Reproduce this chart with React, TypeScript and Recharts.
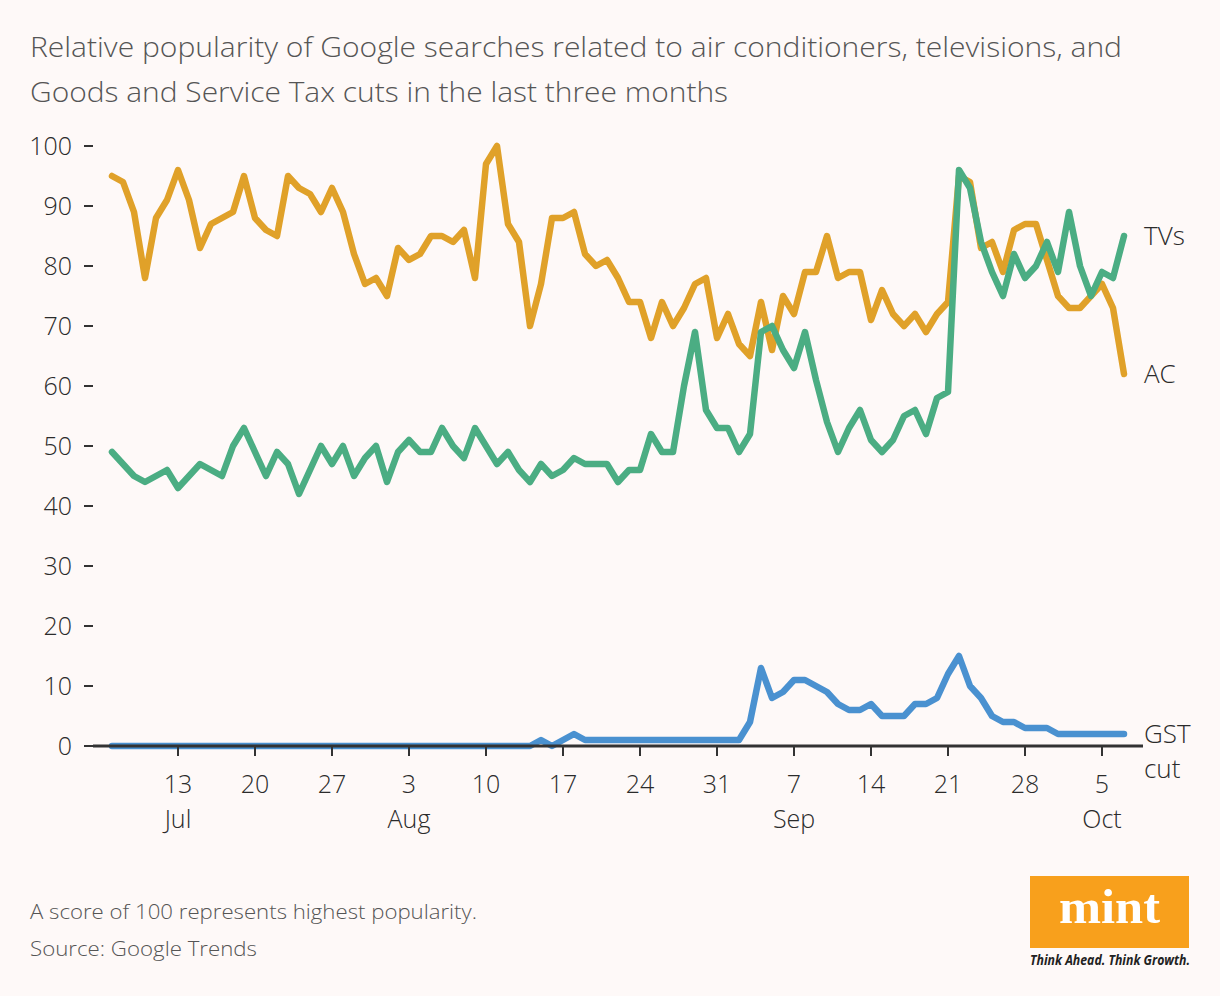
import React from 'react';
import { LineChart, Line, XAxis, YAxis, ReferenceLine } from 'recharts';

// Daily index 0 = 7 Jul ... 92 = 7 Oct
const acValues = [
  95, 94, 89, 78, 88, 91, 96, 91, 83, 87, 88, 89, 95, 88, 86, 85, 95, 93, 92, 89, 93, 89, 82, 77, 78, 75,
  83, 81, 82, 85, 85, 84, 86, 78, 97, 100, 87, 84, 70, 77, 88, 88, 89, 82, 80, 81, 78, 74, 74, 68, 74, 70,
  73, 77, 78, 68, 72, 67, 65, 74, 66, 75, 72, 79, 79, 85, 78, 79, 79, 71, 76, 72, 70, 72, 69, 72, 74,
  95, 94, 83, 84, 79, 86, 87, 87, 81, 75, 73, 73, 75, 77, 73, 62,
];
const tvValues = [
  49, 47, 45, 44, 45, 46, 43, 45, 47, 46, 45, 50, 53, 49, 45, 49, 47, 42, 46, 50, 47, 50, 45, 48, 50, 44,
  49, 51, 49, 49, 53, 50, 48, 53, 50, 47, 49, 46, 44, 47, 45, 46, 48, 47, 47, 47, 44, 46, 46, 52, 49, 49,
  60, 69, 56, 53, 53, 49, 52, 69, 70, 66, 63, 69, 61, 54, 49, 53, 56, 51, 49, 51, 55, 56, 52, 58, 59,
  96, 93, 84, 79, 75, 82, 78, 80, 84, 79, 89, 80, 75, 79, 78, 85,
];
const gstValues = [
  0, 0, 0, 0, 0, 0, 0, 0, 0, 0, 0, 0, 0, 0, 0, 0, 0, 0, 0, 0, 0, 0, 0, 0, 0, 0, 0, 0, 0, 0,
  0, 0, 0, 0, 0, 0, 0, 0, 0, 1, 0, 1, 2,
  1, 1, 1, 1, 1, 1, 1, 1, 1, 1, 1, 1, 1, 1, 1,
  4, 13, 8, 9, 11, 11, 10, 9, 7, 6, 6, 7, 5, 5, 5, 7, 7, 8, 12, 15, 10, 8, 5, 4, 4, 3, 3, 3, 2, 2,
  2, 2, 2, 2, 2,
];

const tickIndex = [6, 13, 20, 27, 34, 41, 48, 55, 62, 69, 76, 83, 90];
const tickDay = ['13', '20', '27', '3', '10', '17', '24', '31', '7', '14', '21', '28', '5'];
const tickMonth = ['Jul', '', '', 'Aug', '', '', '', '', 'Sep', '', '', '', 'Oct'];
const yTicks = [0, 10, 20, 30, 40, 50, 60, 70, 80, 90, 100];

const titleLines = [
  'Relative popularity of Google searches related to air conditioners, televisions, and',
  'Goods and Service Tax cuts in the last three months',
];
const titleLengths = [1092, 698];
const notes = ['A score of 100 represents highest popularity.', 'Source: Google Trends'];
const noteLengths = [447, 227];

const data = acValues.map((v, i) => ({ i, ac: v, tv: tvValues[i], gst: gstValues[i] }));
const lastIndex = data.length - 1;

const FONT = '"Open Sans", "Noto Sans", sans-serif';
const C_AC = '#E0A129';
const C_TV = '#4BAD83';
const C_GST = '#4A91D0';
const TEXT = '#2b2b2b';

const XTick = (props: any) => {
  const { x, y, payload } = props;
  const k = tickIndex.indexOf(payload.value);
  if (k < 0) return null;
  return (
    <g>
      <text x={x} y={y + 35} textAnchor="middle" fontSize={25} fontWeight={300} fill={TEXT} fontFamily={FONT}>
        {tickDay[k]}
      </text>
      {tickMonth[k] ? (
        <text x={x} y={y + 70} textAnchor="middle" fontSize={25} fontWeight={300} fill={TEXT} fontFamily={FONT}>
          {tickMonth[k]}
        </text>
      ) : null}
    </g>
  );
};

const endLabel = (lines: string[]) => (props: any) => {
  const { x, y, index } = props;
  if (index !== lastIndex) return null;
  return (
    <text x={x + 20} y={y} fontSize={26} fontWeight={300} fill={TEXT} fontFamily={FONT}>
      {lines.map((l, k) => (
        <tspan key={k} x={x + 20} dy={k === 0 ? '0.36em' : '1.32em'}>
          {l}
        </tspan>
      ))}
    </text>
  );
};

export default function App() {
  return (
    <div
      style={{
        position: 'absolute',
        left: 0,
        top: 0,
        width: 1220,
        height: 996,
        background: '#FEF9F8',
        fontFamily: FONT,
        overflow: 'hidden',
      }}
    >
      <LineChart
        width={1220}
        height={996}
        data={data}
        margin={{ top: 146, right: 77, left: 0, bottom: 190 }}
      >
        <XAxis
          dataKey="i"
          type="number"
          domain={[-1.727, 93.727]}
          ticks={tickIndex}
          interval={0}
          axisLine={false}
          tickLine={{ stroke: '#333', strokeWidth: 2 }}
          tickSize={10}
          tickMargin={2}
          height={60}
          tick={<XTick />}
          allowDataOverflow
        />
        <YAxis
          type="number"
          domain={[0, 100]}
          ticks={yTicks}
          width={93}
          axisLine={false}
          tickLine={{ stroke: '#333', strokeWidth: 2 }}
          tickSize={9}
          tickMargin={12}
          tick={{ fontSize: 25, fontWeight: 300, fill: TEXT, fontFamily: FONT }}
        />
        <Line
          type="linear"
          dataKey="ac"
          stroke={C_AC}
          strokeWidth={6.5}
          strokeLinecap="round"
          strokeLinejoin="round"
          dot={false}
          activeDot={false}
          isAnimationActive={false}
          label={endLabel(['AC'])}
        />
        <Line
          type="linear"
          dataKey="tv"
          stroke={C_TV}
          strokeWidth={6.5}
          strokeLinecap="round"
          strokeLinejoin="round"
          dot={false}
          activeDot={false}
          isAnimationActive={false}
          label={endLabel(['TVs'])}
        />
        <Line
          type="linear"
          dataKey="gst"
          stroke={C_GST}
          strokeWidth={6.5}
          strokeLinecap="round"
          strokeLinejoin="round"
          dot={false}
          activeDot={false}
          isAnimationActive={false}
          label={endLabel(['GST', 'cut'])}
        />
        <ReferenceLine y={0} stroke="#333" strokeWidth={3} ifOverflow="visible" />
      </LineChart>
      <svg
        width={1220}
        height={996}
        style={{ position: 'absolute', left: 0, top: 0, pointerEvents: 'none' }}
      >
        {titleLines.map((t, k) => (
          <text
            key={k}
            x={30}
            y={57 + k * 45}
            fontSize={28}
            fontWeight={300}
            fill="#555"
            fontFamily={FONT}
            textLength={titleLengths[k]}
            lengthAdjust="spacingAndGlyphs"
          >
            {t}
          </text>
        ))}
        {notes.map((t, k) => (
          <text
            key={k}
            x={30}
            y={919 + k * 37}
            fontSize={21}
            fontWeight={300}
            fill="#555"
            fontFamily={FONT}
            textLength={noteLengths[k]}
            lengthAdjust="spacingAndGlyphs"
          >
            {t}
          </text>
        ))}
        <rect x={1030} y={876} width={159} height={72} fill="#F8A01C" />
        <text
          x={1109.5}
          y={923}
          textAnchor="middle"
          fontSize={48}
          fontWeight={700}
          fill="#fff"
          fontFamily='"Liberation Serif", "DejaVu Serif", serif'
          textLength={101}
          lengthAdjust="spacingAndGlyphs"
        >
          mint
        </text>
        <text
          x={1030}
          y={965}
          fontSize={14}
          fontWeight={700}
          fontStyle="italic"
          fill="#222"
          fontFamily={FONT}
          textLength={160}
          lengthAdjust="spacingAndGlyphs"
        >
          Think Ahead. Think Growth.
        </text>
      </svg>
    </div>
  );
}
